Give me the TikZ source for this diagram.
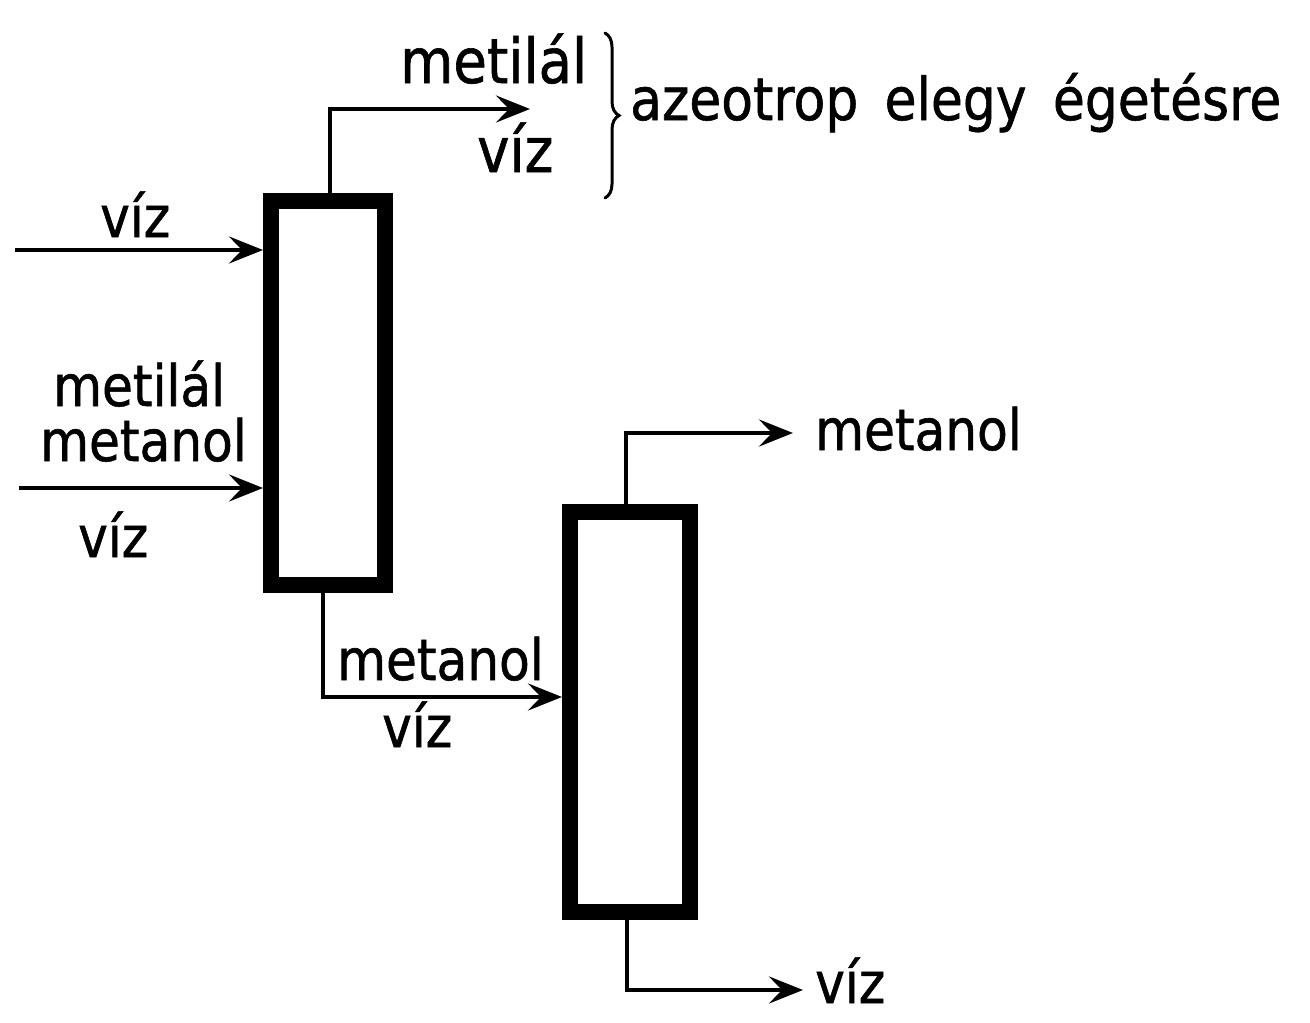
\documentclass[tikz,border=0pt]{standalone}
\usepackage{fontspec}
\setmainfont{DejaVu Sans}[FakeStretch=0.88,FakeBold=1]
\usetikzlibrary{arrows.meta,calc,decorations.pathreplacing}
\begin{document}
\begin{tikzpicture}[x=1pt,y=-1pt,
  column/.style={draw=black,line width=16pt,fill=white,inner sep=0pt},
  arr/.style={line width=4.5pt,-{Stealth[length=34pt,width=27pt,inset=13pt]}},
  lbl/.style={anchor=base west,inner sep=0pt,font=\fontsize{57}{60}\selectfont},
  lblbig/.style={anchor=base west,inner sep=0pt,font=\fontsize{62}{64}\selectfont}]
\useasboundingbox (0,0) rectangle (1310,1023);
% columns
\node[column,minimum width=114pt,minimum height=384pt] (c1) at (328,393) {};
\node[column,minimum width=120pt,minimum height=400pt] (c2) at (630,712) {};
% coordinates
\coordinate (in1) at (15,250);
\coordinate (in2) at (19,488);
\coordinate (t1) at (530,109);
\coordinate (m1) at (0,697);
\coordinate (t2) at (793,433);
\coordinate (t3) at (803,990);
% connectors
\draw[arr] (in1) -- (in1 -| c1.west);
\draw[arr] (in2) -- (in2 -| c1.west);
\draw[arr] ([xshift=2pt]c1.north) |- (t1);
\draw[arr] ([xshift=-5pt]c1.south) |- (c2.west |- m1);
\draw[arr] ([xshift=-4pt]c2.north) |- (t2);
\draw[arr] ([xshift=-3pt]c2.south) |- (t3);
% brace
\draw[line width=3pt,line cap=round,decorate,decoration={brace,amplitude=14pt}] (605,33) -- (605,198);
% labels
\node[lblbig] (l1) at (400,83) {metilál};
\node[lblbig] (l2) at (477,172) {víz};
\node[anchor=base west,inner sep=0pt,font=\fontsize{59}{62}\selectfont] (l3) at (630,120) {azeotrop\, elegy\, égetésre};
\node[lbl] (l4) at (100,237) {víz};
\node[lbl] (l5) at (53,406) {metilál};
\node[lbl] (l6) at (40,461) {metanol};
\node[lbl] (l7) at (78,557) {víz};
\node[lbl] (l8) at (337,680) {metanol};
\node[lbl] (l9) at (382,747) {víz};
\node[lbl] (l10) at (815,450) {metanol};
\node[lbl] (l11) at (815,1003) {víz};
\end{tikzpicture}
\end{document}
